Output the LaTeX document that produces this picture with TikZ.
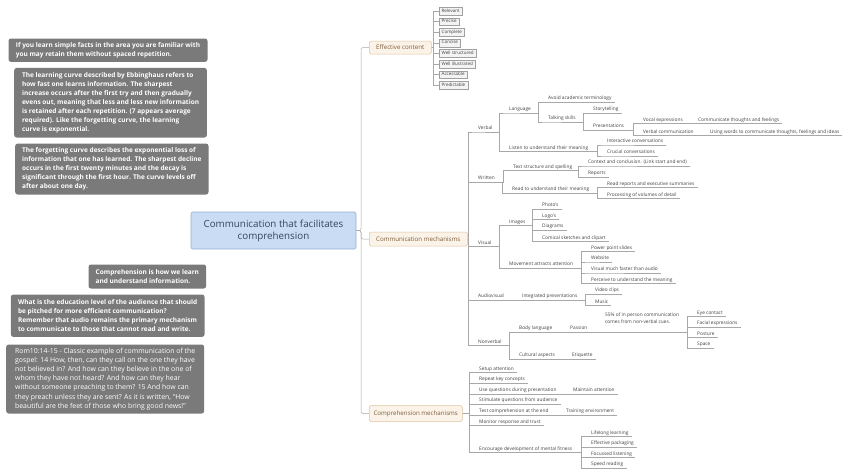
\documentclass[tikz,border=0pt]{standalone}
\usepackage{fontspec}
\setmainfont{Open Sans}
\usetikzlibrary{calc}
\definecolor{lnc}{HTML}{A8A8A8}
\definecolor{txt}{HTML}{404040}
\definecolor{notefill}{HTML}{7A7A7A}
\definecolor{rootfill}{HTML}{C9DCF4}
\definecolor{rootdraw}{HTML}{93AFD3}
\definecolor{roottxt}{HTML}{34465E}
\definecolor{mainfill}{HTML}{FCF3E8}
\definecolor{maindraw}{HTML}{DCC4A2}
\definecolor{maintxt}{HTML}{7B5E3C}
\definecolor{boxfill}{HTML}{F3F3F3}
\definecolor{boxdraw}{HTML}{A0A0A0}
\tikzstyle{branch}=[draw=lnc, line width=0.5pt]
\tikzstyle{topic}=[anchor=south west, inner xsep=3pt, inner ysep=1.2pt, text height=3.6pt, text depth=1.2pt, text=txt, font=\fontsize{4.8}{6.4}\selectfont]
\tikzstyle{item}=[anchor=west, draw=boxdraw, fill=boxfill, line width=0.4pt, inner xsep=2.5pt, inner ysep=0pt, minimum height=7.8pt, text height=3.4pt, text depth=1.1pt, text=txt, font=\fontsize{4.5}{5}\selectfont]
\tikzstyle{mainbox}=[anchor=west, draw=maindraw, fill=mainfill, line width=0.5pt, rounded corners=1.5pt, inner xsep=4pt, text=maintxt, font=\fontsize{6.2}{7}\selectfont]
\tikzstyle{rootbox}=[draw=rootdraw, fill=rootfill, line width=0.6pt, rounded corners=2pt, align=center, minimum width=165pt, minimum height=37pt, text=roottxt, font=\fontsize{9.8}{12}\selectfont]
\tikzstyle{note}=[anchor=north west, fill=notefill, rounded corners=2.5pt, align=left, inner xsep=4.5pt, text=white, font=\fontsize{6.5}{9}\selectfont\bfseries]
% topic with an underline, placed at the start of its text
\newcommand{\newtopic}[4][]{\node[topic,#1] (#2) at (#3) {#4};}
% parent end -> bar -> underline of the child
\newcommand{\newlink}[2]{\draw[branch] (#1) -- ($(#1 -| #2.south west)+(-7,0)$) |- (#2.south west) -- (#2.south east);}
\begin{document}
\begin{tikzpicture}[x=1pt,y=-1pt]
\useasboundingbox (0,0) rectangle (850,475);

% notes on the left
\node[note, minimum width=199pt, minimum height=23.4pt] (fact) at (8.3,38.3) {If you learn simple facts in the area you are familiar with\\you may retain them without spaced repetition.};
\node[note, minimum width=192.7pt, minimum height=69.6pt] (learn) at (14,67.7) {The learning curve described by Ebbinghaus refers to\\how fast one learns information. The sharpest\\increase occurs after the first try and then gradually\\evens out, meaning that less and less new information\\is retained after each repetition. (7 appears average\\required). Like the forgetting curve,  the learning\\curve is exponential.};
\node[note, minimum width=193.3pt, minimum height=51pt] (forget) at (15,143.3) {The forgetting curve describes the exponential loss of\\information that one has learned. The sharpest decline\\occurs in the first twenty minutes and the decay is\\significant through the first hour. The curve levels off\\after about one day.};
\node[note, minimum width=117.7pt, minimum height=24pt] (compdef) at (88.3,264.3) {Comprehension is how we learn\\and understand information.};
\node[note, minimum width=193.6pt, minimum height=42.4pt] (level) at (10.7,294.3) {What is the education level of the audience that should\\be pitched for more efficient communication?\\Remember that audio remains the primary mechanism\\to communicate to those that cannot read and write.};
\node[note, minimum width=198pt, minimum height=69pt, font=\fontsize{6.9}{9.1}\selectfont] (rom) at (6,344.3) {Rom10:14-15 - Classic example of communication of the\\gospel: 14 How, then, can they call on the one they have\\not believed in? And how can they believe in the one of\\whom they have not heard? And how can they hear\\without someone preaching to them? 15 And how can\\they preach unless they are sent? As it is written, “How\\beautiful are the feet of those who bring good news!”};

% root and main branches
\node[rootbox] (root) at (273.5,230.5) {Communication that facilitates\\comprehension};
\node[mainbox, minimum width=62pt, minimum height=13pt] (eff) at (369,47.5) {Effective content};
\node[mainbox, minimum width=98pt, minimum height=14pt] (comm) at (369,239) {Communication mechanisms};
\node[mainbox, minimum width=93pt, minimum height=16pt] (compr) at (369,413.5) {Comprehension mechanisms};
\foreach \m in {eff,comm,compr}
  \draw[branch, rounded corners=2pt] (root.east) -- ($(root.east -| \m.west)+(-8,0)$) |- (\m.west);

% effective content
\foreach \name/\lab [count=\i from 0] in {relevant/Relevant, precise/Precise, complete/Complete, concise/Concise, wellstr/Well structured, wellill/Well illustrated, access/Accessable, predict/Predictable} {
  \node[item] (\name) at (439,11+10.6*\i) {\lab};
  \draw[branch] (eff.east) -- ($(eff.east -| \name.west)+(-6,0)$) |- (\name.west);
}

% communication mechanisms
\newtopic{verbal}{475,132}{Verbal}
\newtopic{written}{475,182.5}{Written}
\newtopic{visual}{475,246.7}{Visual}
\newtopic{audio}{475,300}{Audiovisual}
\newtopic{nonverbal}{475,345.7}{Nonverbal}
\foreach \c in {verbal,written,visual,audio,nonverbal} {\newlink{comm.east}{\c}}

% verbal
\newtopic{language}{506,113}{Language}
\newtopic{listen}{506,151.7}{Listen to understand their meaning}
\newtopic{avoid}{545,102.5}{Avoid academic terminology}
\newtopic{talking}{545,122}{Talking skills}
\newtopic{story}{590,113.5}{Storytelling}
\newtopic{present}{590,130.5}{Presentations}
\newtopic{vocal}{640,123.7}{Vocal expressions}
\newtopic{verbcomm}{640,135.7}{Verbal communication}
\newtopic{thoughts}{695,123.7}{Communicate thoughts and feelings}
\newtopic{usingwords}{707,135.7}{Using words to communicate thoughts, feelings and ideas}
\newtopic{interact}{604,145}{Interactive conversations}
\newtopic{crucial}{604,156}{Crucial conversations}
\newlink{verbal.south east}{language}
\newlink{verbal.south east}{listen}
\newlink{language.south east}{avoid}
\newlink{language.south east}{talking}
\newlink{talking.south east}{story}
\newlink{talking.south east}{present}
\newlink{present.south east}{vocal}
\newlink{present.south east}{verbcomm}
\newlink{vocal.south east}{thoughts}
\newlink{verbcomm.south east}{usingwords}
\newlink{listen.south east}{interact}
\newlink{listen.south east}{crucial}

% written
\newtopic{textstruct}{510,170.7}{Text structure and spelling}
\newtopic{context}{585,166}{Context and conclusion. (Link start and end)}
\newtopic{reports}{585,177.3}{Reports}
\newtopic{readund}{509,193.3}{Read to understand their meaning}
\newtopic{readrep}{604,187.7}{Read reports and executive summaries}
\newtopic{process}{604,198.7}{Processing of volumes of detail}
\newlink{written.south east}{textstruct}
\newlink{written.south east}{readund}
\newlink{textstruct.south east}{context}
\newlink{textstruct.south east}{reports}
\newlink{readund.south east}{readrep}
\newlink{readund.south east}{process}

% visual
\newtopic{images}{506,225.7}{Images}
\newtopic{photos}{539,209.3}{Photo's}
\newtopic{logos}{539,219.7}{Logo's}
\newtopic{diagrams}{539,230.3}{Diagrams}
\newtopic{comical}{539,241.7}{Comical sketches and clipart}
\newtopic{movement}{506,268.3}{Movement attracts attention}
\newtopic{ppt}{588,251.7}{Power point slides}
\newtopic{website}{588,262}{Website}
\newtopic{vfaster}{588,273}{Visual much faster than audio}
\newtopic{perceive}{588,283.7}{Perceive to understand the meaning}
\newlink{visual.south east}{images}
\newlink{visual.south east}{movement}
\foreach \c in {photos,logos,diagrams,comical} {\newlink{images.south east}{\c}}
\foreach \c in {ppt,website,vfaster,perceive} {\newlink{movement.south east}{\c}}

% audiovisual
\newtopic{integrated}{519,300}{Integrated presentations}
\newtopic{video}{592,294}{Video clips}
\newtopic{music}{592,305.7}{Music}
\newlink{audio.south east}{integrated}
\newlink{integrated.south east}{video}
\newlink{integrated.south east}{music}

% nonverbal
\newtopic{body}{516,332.3}{Body language}
\newtopic{passion}{567,332.3}{Passion}
\newtopic[align=left, text depth=7.6pt]{pct}{602,332.3}{55\% of in person communication\\comes from non-verbal cues.}
\newtopic{eye}{694,316.7}{Eye contact}
\newtopic{facial}{694,327}{Facial expressions}
\newtopic{posture}{694,337.7}{Posture}
\newtopic{space}{694,348.3}{Space}
\newtopic{cultural}{516,359}{Cultural aspects}
\newtopic{etiquette}{569,359}{Etiquette}
\newlink{nonverbal.south east}{body}
\newlink{nonverbal.south east}{cultural}
\newlink{body.south east}{passion}
\newlink{passion.south east}{pct}
\foreach \c in {eye,facial,posture,space} {\newlink{pct.south east}{\c}}
\newlink{cultural.south east}{etiquette}

% comprehension mechanisms
\newtopic{setup}{476,372.7}{Setup attention}
\newtopic{repeat}{476,383.3}{Repeat key concepts}
\newtopic{usequest}{476,394}{Use questions during presentation}
\newtopic{stimulate}{476,404.3}{Stimulate questions from audience}
\newtopic{testcomp}{476,415}{Test comprehension at the end}
\newtopic{monitor}{476,425.7}{Monitor response and trust}
\newtopic{encourage}{476,452.7}{Encourage development of mental fitness}
\foreach \c in {setup,repeat,usequest,stimulate,testcomp,monitor,encourage} {\newlink{compr.east}{\c}}
\newtopic{maintain}{570,394}{Maintain attention}
\newtopic{training}{563,415}{Training environment}
\newlink{usequest.south east}{maintain}
\newlink{testcomp.south east}{training}
\newtopic{lifelong}{588,436.7}{Lifelong learning}
\newtopic{effpack}{588,447}{Effective packaging}
\newtopic{focus}{588,457.7}{Focussed listening}
\newtopic{speed}{588,468.3}{Speed reading}
\foreach \c in {lifelong,effpack,focus,speed} {\newlink{encourage.south east}{\c}}
\end{tikzpicture}
\end{document}
